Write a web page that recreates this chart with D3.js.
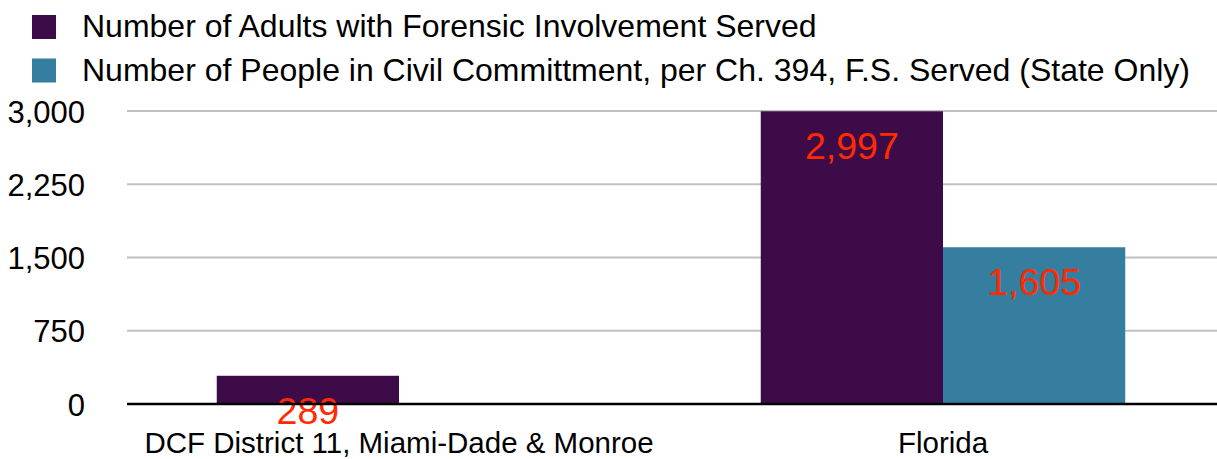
<!DOCTYPE html>
<html>
<head>
<meta charset="utf-8">
<script src="https://cdn.jsdelivr.net/npm/d3@7/dist/d3.min.js"></script>
<style>
  html, body { margin: 0; padding: 0; background: #fff; }
  svg { display: block; font-family: "Liberation Sans", Arial, Helvetica, sans-serif; }
</style>
</head>
<body>
<svg id="chart" width="1217" height="459"></svg>
<script>
const categories = ["DCF District 11, Miami-Dade & Monroe", "Florida"];
const seriesNames = [
  "Number of Adults with Forensic Involvement Served",
  "Number of People in Civil Committment, per Ch. 394, F.S. Served (State Only)"
];
const forensicServed = [289, 2997];
const civilCommitment = [null, 1605];
const yTicks = [0, 750, 1500, 2250, 3000];
const seriesColors = ["#3d0c48", "#367ea0"];

const seriesValues = [forensicServed, civilCommitment];
const svg = d3.select("#chart");
const W = 1217, H = 459;
const plot = { left: 127, right: 1215, top: 111, bottom: 404 };

const x0 = d3.scaleBand().domain(categories).range([plot.left, plot.right]).paddingInner(0.33).paddingOuter(0.165);
const x1 = d3.scaleBand().domain(d3.range(seriesNames.length)).range([0, x0.bandwidth()]).padding(0);
const y = d3.scaleLinear().domain([0, 3000]).range([plot.bottom, plot.top]);
const fmt = d3.format(",");

// gridlines
svg.append("g").selectAll("line").data(yTicks.filter(d => d > 0)).join("line")
  .attr("x1", plot.left).attr("x2", W)
  .attr("y1", d => y(d)).attr("y2", d => y(d))
  .attr("stroke", "#c0c0c0").attr("stroke-width", 2);

// y axis labels
const yAxis = d3.axisLeft(y).tickValues(yTicks).tickFormat(fmt).tickSize(0).tickPadding(0);
const yg = svg.append("g").attr("transform", `translate(85,0)`).call(yAxis);
yg.select(".domain").remove();
yg.selectAll("text").attr("font-size", 31).attr("fill", "#000")
  .attr("font-family", "Liberation Sans, Arial, sans-serif").attr("dy", "0.36em");

// bars
const groups = svg.append("g").selectAll("g").data(categories).join("g")
  .attr("transform", d => `translate(${x0(d)},0)`);

groups.each(function(cat, ci) {
  const g = d3.select(this);
  seriesValues.forEach((vals, si) => {
    const v = vals[ci];
    if (v == null) return;
    g.append("rect")
      .attr("x", x1(si)).attr("width", x1.bandwidth())
      .attr("y", y(v)).attr("height", y(0) - y(v))
      .attr("fill", seriesColors[si]);
  });
});

// baseline
svg.append("line").attr("x1", plot.left).attr("x2", W)
  .attr("y1", y(0)).attr("y2", y(0)).attr("stroke", "#000").attr("stroke-width", 2.5);

// value labels
groups.each(function(cat, ci) {
  const g = d3.select(this);
  seriesValues.forEach((vals, si) => {
    const v = vals[ci];
    if (v == null) return;
    g.append("text")
      .attr("x", x1(si) + x1.bandwidth() / 2)
      .attr("y", y(v) + 48)
      .attr("text-anchor", "middle")
      .attr("font-size", 37.5)
      .attr("fill", "#ff2a00")
      .text(fmt(v));
  });
});

// category labels
const xAxis = d3.axisBottom(x0).tickSize(0).tickPadding(0);
const xg = svg.append("g").attr("transform", `translate(0,${plot.bottom})`).call(xAxis);
xg.select(".domain").remove();
xg.selectAll("text").attr("font-size", 29.5).attr("fill", "#000")
  .attr("font-family", "Liberation Sans, Arial, sans-serif")
  .attr("dy", null).attr("y", 49);

// legend
const legend = svg.append("g");
seriesNames.forEach((name, i) => {
  const ly = 15 + i * 43.5;
  legend.append("rect").attr("x", 32).attr("y", ly).attr("width", 24).attr("height", 24).attr("fill", seriesColors[i]);
  legend.append("text").attr("x", 82).attr("y", ly + 22).attr("font-size", 32).attr("fill", "#000").text(name);
});
</script>
</body>
</html>
